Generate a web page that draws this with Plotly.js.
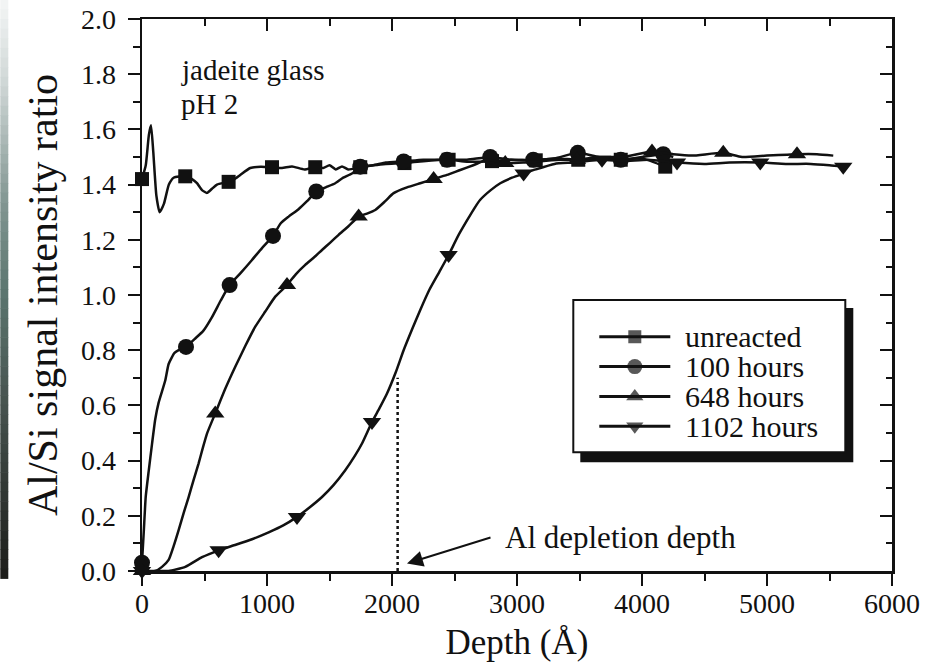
<!DOCTYPE html>
<html>
<head>
<meta charset="utf-8">
<script src="https://cdn.plot.ly/plotly-3.0.1.min.js"></script>
<style>
  html, body { margin: 0; padding: 0; background: #ffffff; }
  #chart { width: 938px; height: 665px; }
</style>
</head>
<body>
<div id="chart"></div>
<script>
// ---------------- data ----------------
const seriesNames = ["unreacted", "100 hours", "648 hours", "1102 hours"];

// unreacted glass: full profile and marker positions
const unreactedX = [0, 30, 55, 72, 90, 115, 141, 175, 215, 253, 346, 400, 440, 480, 520, 560, 600, 693, 740, 786, 866, 950, 1040, 1120, 1200, 1300, 1386, 1450, 1500, 1550, 1600, 1650, 1746, 1850, 1950, 2100, 2250, 2453, 2600, 2800, 2950, 3150, 3300, 3490, 3650, 3830, 4000, 4186];
const unreactedY = [1.42, 1.47, 1.58, 1.615, 1.52, 1.36, 1.30, 1.33, 1.40, 1.425, 1.43, 1.42, 1.405, 1.38, 1.37, 1.385, 1.40, 1.41, 1.42, 1.435, 1.46, 1.465, 1.463, 1.46, 1.466, 1.455, 1.463, 1.46, 1.47, 1.455, 1.466, 1.455, 1.463, 1.47, 1.475, 1.478, 1.485, 1.49, 1.483, 1.485, 1.49, 1.488, 1.495, 1.49, 1.495, 1.49, 1.495, 1.465];
const unreactedMarkX = [0, 346, 693, 1040, 1386, 1746, 2100, 2453, 2800, 3150, 3490, 3830, 4186];
const unreactedMarkY = [1.42, 1.43, 1.41, 1.463, 1.463, 1.463, 1.478, 1.49, 1.485, 1.488, 1.49, 1.49, 1.465];

// 100 hours
const h100X = [0, 15, 30, 53, 80, 106, 133, 186, 213, 260, 293, 352, 420, 490, 560, 630, 701, 790, 880, 960, 1048, 1110, 1173, 1250, 1320, 1394, 1470, 1546, 1610, 1680, 1746, 1850, 1950, 2093, 2250, 2440, 2600, 2786, 2950, 3130, 3300, 3486, 3650, 3830, 4000, 4170, 4250];
const h100Y = [0.03, 0.15, 0.27, 0.36, 0.46, 0.55, 0.61, 0.69, 0.75, 0.79, 0.80, 0.812, 0.84, 0.87, 0.92, 0.98, 1.036, 1.08, 1.127, 1.17, 1.214, 1.26, 1.284, 1.31, 1.34, 1.375, 1.39, 1.405, 1.425, 1.44, 1.465, 1.47, 1.48, 1.484, 1.49, 1.49, 1.49, 1.50, 1.49, 1.49, 1.495, 1.515, 1.50, 1.49, 1.50, 1.51, 1.50];
const h100MarkX = [0, 352, 701, 1048, 1394, 1746, 2093, 2440, 2786, 3130, 3486, 3830, 4170];
const h100MarkY = [0.03, 0.812, 1.036, 1.214, 1.375, 1.465, 1.484, 1.49, 1.50, 1.49, 1.515, 1.49, 1.51];

// 648 hours
const h648X = [0, 106, 160, 213, 253, 293, 333, 373, 413, 453, 486, 520, 586, 666, 746, 826, 906, 986, 1066, 1160, 1230, 1306, 1373, 1440, 1506, 1573, 1653, 1733, 1800, 1866, 1946, 2013, 2120, 2226, 2333, 2440, 2546, 2650, 2760, 2906, 3050, 3200, 3350, 3480, 3650, 3850, 4080, 4250, 4400, 4650, 4800, 5000, 5240, 5400, 5530];
const h648Y = [0, 0.0, 0.015, 0.04, 0.09, 0.148, 0.21, 0.268, 0.33, 0.39, 0.445, 0.498, 0.571, 0.66, 0.74, 0.815, 0.885, 0.94, 0.994, 1.036, 1.075, 1.109, 1.135, 1.163, 1.19, 1.218, 1.25, 1.284, 1.295, 1.308, 1.34, 1.369, 1.39, 1.405, 1.42, 1.435, 1.453, 1.47, 1.49, 1.478, 1.48, 1.485, 1.49, 1.49, 1.50, 1.50, 1.52, 1.51, 1.505, 1.515, 1.50, 1.505, 1.51, 1.51, 1.505];
const h648MarkX = [0, 586, 1160, 1733, 2333, 2906, 3480, 4080, 4650, 5240];
const h648MarkY = [0, 0.571, 1.036, 1.284, 1.42, 1.478, 1.49, 1.52, 1.515, 1.51];

// 1102 hours
const h1102X = [0, 100, 213, 346, 480, 613, 750, 880, 1013, 1130, 1240, 1340, 1440, 1530, 1626, 1700, 1760, 1840, 1900, 1960, 2030, 2093, 2160, 2226, 2300, 2380, 2453, 2530, 2600, 2660, 2706, 2790, 2866, 2960, 3053, 3150, 3300, 3450, 3680, 3850, 4050, 4280, 4500, 4700, 4946, 5150, 5350, 5500, 5610];
const h1102Y = [0, 0, 0.0, 0.015, 0.05, 0.075, 0.095, 0.115, 0.14, 0.165, 0.196, 0.23, 0.268, 0.31, 0.365, 0.415, 0.462, 0.54, 0.59, 0.643, 0.72, 0.80, 0.875, 0.946, 1.02, 1.085, 1.145, 1.215, 1.27, 1.315, 1.345, 1.38, 1.405, 1.425, 1.44, 1.455, 1.475, 1.48, 1.49, 1.485, 1.49, 1.48, 1.475, 1.48, 1.48, 1.475, 1.475, 1.47, 1.465];
const h1102MarkX = [0, 613, 1240, 1840, 2453, 3053, 3680, 4280, 4946, 5610];
const h1102MarkY = [0, 0.075, 0.196, 0.54, 1.145, 1.44, 1.49, 1.48, 1.48, 1.465];

// Al depletion depth marker
const depletionDepth = 2045;
const depletionTop = 0.70;
const arrowHead = [2120, 0.027];
const arrowTail = [2800, 0.123];

// axis ticks
const xTickVals = [0, 1000, 2000, 3000, 4000, 5000, 6000];
const xTickText = ["0", "1000", "2000", "3000", "4000", "5000", "6000"];
const yTickVals = [0, 0.2, 0.4, 0.6, 0.8, 1.0, 1.2, 1.4, 1.6, 1.8, 2.0];
const yTickText = ["0.0", "0.2", "0.4", "0.6", "0.8", "1.0", "1.2", "1.4", "1.6", "1.8", "2.0"];

// ---------------- styling / layout constants ----------------
const INK = "#111111";
const FONT = "Liberation Serif, Times New Roman, serif";
const symbols = ["square", "circle", "triangle-up", "triangle-down"];
const symSizes = [14, 16, 16, 16];
const W = 938, H = 665;
const PL = 141.7, PR = 891.7, PT = 19.3, PB = 570.7;   // plot area in pixels

const allX = [unreactedX, h100X, h648X, h1102X];
const allY = [unreactedY, h100Y, h648Y, h1102Y];
const allMX = [unreactedMarkX, h100MarkX, h648MarkX, h1102MarkX];
const allMY = [unreactedMarkY, h100MarkY, h648MarkY, h1102MarkY];

const traces = [];
for (let i = 0; i < 4; i++) {
  traces.push({
    type: "scatter", mode: "lines", x: allX[i], y: allY[i],
    line: {color: INK, width: 2.5, shape: "spline", smoothing: 0.5},
    showlegend: false, hoverinfo: "skip", cliponaxis: false
  });
  traces.push({
    type: "scatter", mode: "markers", x: allMX[i], y: allMY[i], name: seriesNames[i],
    marker: {symbol: symbols[i], size: symSizes[i], color: INK, line: {width: 0}},
    showlegend: false, cliponaxis: false
  });
}
// empty trace to create mirrored top/right axes
traces.push({type: "scatter", x: [], y: [], xaxis: "x2", yaxis: "y2", showlegend: false});

// custom legend drawn in pixel space (xaxis3/yaxis3)
const LEG = {x0: 573, x1: 845, y0: 300, y1: 452, shadow: 8, lineX0: 599, lineX1: 670, textX: 683, rows: [336.7, 366.5, 396.5, 426]};
for (let i = 0; i < 4; i++) {
  const yy = LEG.rows[i];
  traces.push({
    type: "scatter", mode: "lines+markers", xaxis: "x3", yaxis: "y3",
    x: [LEG.lineX0, (LEG.lineX0 + LEG.lineX1) / 2, LEG.lineX1], y: [yy, yy, yy],
    line: {color: INK, width: 3},
    marker: {symbol: symbols[i], size: [0, symSizes[i] - 1, 0], color: INK, line: {width: 0}},
    showlegend: false, hoverinfo: "skip", cliponaxis: false
  });
}

const shapes = [];
// legend shadow and box (below traces so the legend samples show)
shapes.push({type: "rect", xref: "x3", yref: "y3", x0: LEG.x0 + LEG.shadow - 1, x1: LEG.x1 + LEG.shadow, y0: LEG.y0 + LEG.shadow, y1: LEG.y1 + LEG.shadow + 2,
  fillcolor: INK, line: {width: 0}, layer: "below"});
shapes.push({type: "rect", xref: "x3", yref: "y3", x0: LEG.x0, x1: LEG.x1, y0: LEG.y0, y1: LEG.y1,
  fillcolor: "#ffffff", line: {color: INK, width: 2}, layer: "below"});
// dotted depletion line
shapes.push({type: "line", xref: "x", yref: "y", x0: depletionDepth, x1: depletionDepth, y0: 0, y1: depletionTop,
  line: {color: INK, width: 2.5, dash: "dot"}});

// left scanner gradient strip (decoration of the scanned image)
const gradStops = [[0, [244, 246, 246]], [0.15, [205, 213, 212]], [0.35, [130, 150, 146]], [0.5, [92, 118, 112]], [0.7, [70, 82, 78]], [1, [28, 29, 26]]];
function gradColor(t) {
  for (let k = 0; k < gradStops.length - 1; k++) {
    const a = gradStops[k], b = gradStops[k + 1];
    if (t >= a[0] && t <= b[0]) {
      const f = (t - a[0]) / (b[0] - a[0]);
      const c = a[1].map((v, j) => Math.round(v + (b[1][j] - v) * f));
      return "rgb(" + c.join(",") + ")";
    }
  }
  return "rgb(28,29,26)";
}
const GRAD = {x0: 0, x1: 8, y0: 0, y1: 578, n: 60};
function pxX(p) { return (p - PL) / (PR - PL); }
function pxY(p) { return (PB - p) / (PB - PT); }
for (let k = 0; k < GRAD.n; k++) {
  const a = GRAD.y0 + (GRAD.y1 - GRAD.y0) * k / GRAD.n;
  const b = GRAD.y0 + (GRAD.y1 - GRAD.y0) * (k + 1) / GRAD.n + 0.6;
  shapes.push({type: "rect", xref: "paper", yref: "paper", x0: pxX(GRAD.x0), x1: pxX(GRAD.x1), y0: pxY(b), y1: pxY(a),
    fillcolor: gradColor((k + 0.5) / GRAD.n), line: {width: 0}, layer: "above"});
}

const annFont = {family: FONT, size: 29, color: INK};
const legFont = {family: FONT, size: 30, color: INK};
const annotations = [
  {xref: "x3", yref: "y3", x: 179, y: 70, text: "jadeite glass", showarrow: false, xanchor: "left", yanchor: "middle", font: annFont},
  {xref: "x3", yref: "y3", x: 179, y: 104, text: "pH 2", showarrow: false, xanchor: "left", yanchor: "middle", font: annFont},
  {xref: "x", yref: "y", axref: "x", ayref: "y", x: arrowHead[0], y: arrowHead[1], ax: arrowTail[0], ay: arrowTail[1],
    text: "", showarrow: true, arrowhead: 2, arrowsize: 1.6, arrowwidth: 2, arrowcolor: INK, standoff: 0},
  {xref: "x3", yref: "y3", x: 503, y: 537, text: "Al depletion depth", showarrow: false, xanchor: "left", yanchor: "middle", font: {family: FONT, size: 31, color: INK}}
];
for (let i = 0; i < 4; i++) {
  annotations.push({xref: "x3", yref: "y3", x: LEG.textX, y: LEG.rows[i], text: seriesNames[i], showarrow: false,
    xanchor: "left", yanchor: "middle", font: legFont});
}

const tickFont = {family: FONT, size: 28, color: INK};
const layout = {
  width: W, height: H,
  margin: {l: PL, r: W - PR, t: PT, b: H - PB, pad: 0},
  paper_bgcolor: "#ffffff", plot_bgcolor: "#ffffff",
  showlegend: false,
  font: {family: FONT, color: INK},
  xaxis: {
    range: [0, 6000], tickmode: "array", tickvals: xTickVals, ticktext: xTickText,
    ticks: "outside", ticklen: 12, tickwidth: 2, tickcolor: INK,
    minor: {ticks: "outside", ticklen: 7, tickwidth: 2, tickcolor: INK, dtick: 500, tick0: 0},
    showline: true, linecolor: INK, linewidth: 2.5, showgrid: false, zeroline: false,
    tickfont: tickFont, ticklabelstandoff: -6,
    title: {text: "Depth (Å)", font: {family: FONT, size: 35, color: INK}, standoff: 12},
    automargin: false
  },
  yaxis: {
    range: [0, 2.0], tickmode: "array", tickvals: yTickVals, ticktext: yTickText,
    ticks: "outside", ticklen: 12, tickwidth: 2, tickcolor: INK,
    minor: {ticks: "outside", ticklen: 7, tickwidth: 2, tickcolor: INK, dtick: 0.1, tick0: 0},
    showline: true, linecolor: INK, linewidth: 2.5, showgrid: false, zeroline: false,
    tickfont: tickFont, ticklabelstandoff: 6,
    title: {text: "Al/Si signal intensity ratio", font: {family: FONT, size: 42, color: INK}, standoff: 10},
    automargin: false
  },
  xaxis2: {
    overlaying: "x", side: "top", anchor: "y2", range: [0, 6000],
    ticks: "inside", ticklen: 12, tickwidth: 2, tickcolor: INK, dtick: 1000, tick0: 0,
    minor: {ticks: "inside", ticklen: 7, tickwidth: 2, tickcolor: INK, dtick: 500, tick0: 0},
    showticklabels: false, showline: true, linecolor: INK, linewidth: 2.5, showgrid: false, zeroline: false
  },
  yaxis2: {
    overlaying: "y", side: "right", anchor: "x2", range: [0, 2.0],
    ticks: "inside", ticklen: 12, tickwidth: 2, tickcolor: INK, dtick: 0.2, tick0: 0,
    minor: {ticks: "inside", ticklen: 6, tickwidth: 2, tickcolor: INK, dtick: 0.1, tick0: 0},
    showticklabels: false, showline: true, linecolor: INK, linewidth: 2.5, showgrid: false, zeroline: false
  },
  xaxis3: {overlaying: "x", anchor: "y3", range: [PL, PR], visible: false, fixedrange: true},
  yaxis3: {overlaying: "y", anchor: "x3", range: [PB, PT], visible: false, fixedrange: true},
  shapes: shapes,
  annotations: annotations
};

Plotly.newPlot("chart", traces, layout, {displayModeBar: false, staticPlot: true});
</script>
</body>
</html>
